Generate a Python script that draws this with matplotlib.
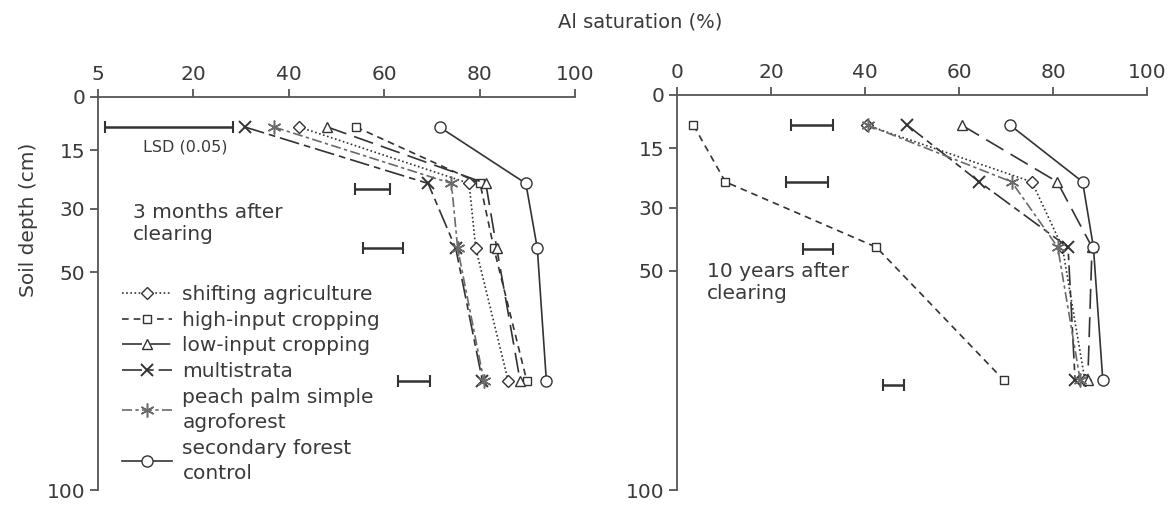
import numpy as np
import matplotlib
matplotlib.use("Agg")
import matplotlib.pyplot as plt

# depth of the sampled layers (cm), as drawn
depth = [8.5, 23.5, 42.5, 75]

# 3 months after clearing, Al saturation (%)
m3_shifting = [42.2, 77.8, 79.2, 86.0]
m3_high = [54.1, 80.1, 83.0, 89.9]
m3_low = [48.1, 81.3, 83.6, 88.5]
m3_multi = [30.8, 69.2, 75.0, 80.6]
m3_peach = [36.9, 74.1, 75.4, 80.9]
m3_forest = [71.6, 89.7, 92.1, 94.0]
m3_lsd_lo = [1.5, 53.9, 55.6, 62.9]
m3_lsd_hi = [28.2, 61.2, 63.9, 69.6]
m3_lsd_depth = [8.5, 25, 42.5, 75]

# 10 years after clearing
y10_shifting = [40.4, 75.5, 82.0, 86.8]
y10_high = [3.5, 10.3, 42.4, 69.6]
y10_low = [60.6, 80.9, 88.3, 87.4]
y10_multi = [49.0, 64.3, 83.2, 84.7]
y10_peach = [40.6, 71.2, 81.0, 85.8]
y10_forest = [70.9, 86.3, 88.6, 90.6]
y10_lsd_lo = [24.2, 23.2, 26.8, 43.8]
y10_lsd_hi = [33.2, 32.1, 33.1, 48.4]
y10_lsd_depth = [8.5, 23.5, 43, 76]

names = ["shifting agriculture", "high-input cropping", "low-input cropping",
         "multistrata", "peach palm simple\nagroforest", "secondary forest\ncontrol"]
yticks = [0, 15, 30, 50, 100]
left_xlabels = ["5", "20", "40", "60", "80", "100"]
right_xlabels = ["0", "20", "40", "60", "80", "100"]

# the drawn depth axis is not linear
knot_d = np.array([0, 15, 30, 50, 100])
knot_p = np.array([0, 53, 112, 175, 393])

def fwd(d):
    return np.interp(d, knot_d, knot_p)

def inv(p):
    return np.interp(p, knot_p, knot_d)

ink = "#333333"
styles = [
    dict(ls=(0, (1, 1.5)), marker="D", ms=6.5),
    dict(ls=(0, (4, 3)), marker="s", ms=6),
    dict(ls=(0, (12, 5)), marker="^", ms=7),
    dict(ls=(0, (12, 3, 4, 3)), marker="x", ms=8, mew=1.4),
    dict(ls=(0, (6, 2, 2, 2)), marker=(6, 2, 0), ms=10, mew=1.1, color="#6a6a6a"),
    dict(ls="-", marker="o", ms=8),
]

plt.rcParams["font.family"] = "DejaVu Sans"
plt.rcParams["font.size"] = 14

fig = plt.figure(figsize=(11.7, 5.13), dpi=100)
ax1 = fig.add_axes([98 / 1170, 1 - 490 / 513, 477 / 1170, 393 / 513])
ax2 = fig.add_axes([677 / 1170, 1 - 490 / 513, 470 / 1170, 395 / 513])

def panel(ax, series, lsd_lo, lsd_hi, lsd_d, xlabels):
    handles = []
    for vals, st, name in zip(series, styles, names):
        st = dict(st)
        c = st.pop("color", ink)
        h, = ax.plot(vals, depth, color=c, lw=1.2, mfc="white", mec=c,
                     label=name, **st)
        handles.append(h)
    lo = np.array(lsd_lo)
    hi = np.array(lsd_hi)
    ax.errorbar((lo + hi) / 2, lsd_d, xerr=(hi - lo) / 2, fmt="none",
                ecolor=ink, elinewidth=1.8, capsize=4, capthick=1.5)
    ax.set_yscale("function", functions=(fwd, inv))
    ax.set_ylim(100, 0)
    ax.set_xlim(0, 100)
    ax.set_yticks(yticks)
    ax.set_yticklabels([str(t) for t in yticks])
    ax.set_xticks([0, 20, 40, 60, 80, 100])
    ax.set_xticklabels(xlabels)
    ax.yaxis.set_minor_locator(plt.NullLocator())
    ax.xaxis.tick_top()
    ax.spines["right"].set_visible(False)
    ax.spines["bottom"].set_visible(False)
    for s in ("left", "top"):
        ax.spines[s].set_color("#555555")
        ax.spines[s].set_linewidth(1.3)
    ax.tick_params(direction="out", length=6, width=1.3, colors="#555555",
                   labelcolor="#3a3a3a", labelsize=14.5, pad=3)
    ax.patch.set_alpha(0)
    return handles

handles = panel(ax1, [m3_shifting, m3_high, m3_low, m3_multi, m3_peach, m3_forest],
                m3_lsd_lo, m3_lsd_hi, m3_lsd_depth, left_xlabels)
panel(ax2, [y10_shifting, y10_high, y10_low, y10_multi, y10_peach, y10_forest],
      y10_lsd_lo, y10_lsd_hi, y10_lsd_depth, right_xlabels)

fig.text(185 / 1170, 1 - 147 / 513, "LSD (0.05)", fontsize=11.5, color="#3a3a3a",
         ha="center", va="center")
fig.text(133 / 1170, 1 - 203 / 513, "3 months after\nclearing", fontsize=14.5,
         color="#3a3a3a", ha="left", va="top", linespacing=1.2)
fig.text(707 / 1170, 1 - 262 / 513, "10 years after\nclearing", fontsize=14.5,
         color="#3a3a3a", ha="left", va="top", linespacing=1.2)
fig.text(640 / 1170, 1 - 22 / 513, "Al saturation (%)", fontsize=14,
         color="#3a3a3a", ha="center", va="center")
fig.text(28 / 1170, 1 - 220 / 513, "Soil depth (cm)", fontsize=14.5, color="#3a3a3a",
         ha="center", va="center", rotation=90)

leg = fig.legend(handles=handles, loc="upper left", bbox_to_anchor=(122 / 1170, 1 - 285 / 513),
                 frameon=False, fontsize=14.5, numpoints=1, handlelength=2.5,
                 handletextpad=0.5, labelspacing=0.33, borderpad=0, borderaxespad=0,
                 labelcolor="#3a3a3a")
for t in leg.get_texts():
    t.set_linespacing(1.42)

fig.savefig("out.png", dpi=100)
